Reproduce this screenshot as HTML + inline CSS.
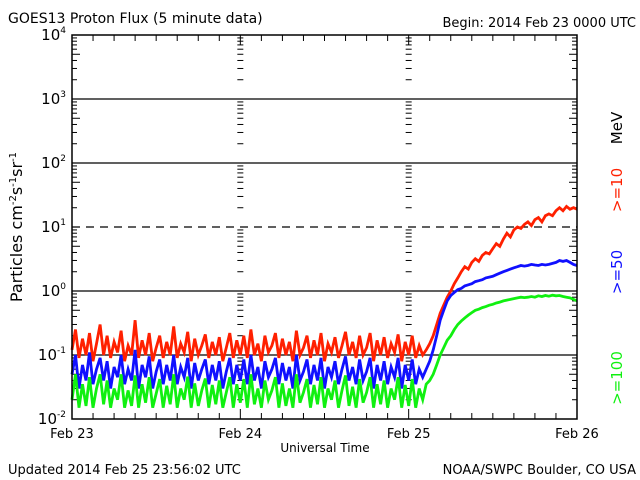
<!DOCTYPE html>
<html><head><meta charset="utf-8">
<style>
html,body{margin:0;padding:0;background:#fff;}
svg{display:block;font-family:"DejaVu Sans","Liberation Sans",sans-serif;}
</style></head>
<body>
<svg id="chart" width="640" height="480" viewBox="0 0 640 480">
<text x="8" y="23" font-size="14">GOES13 Proton Flux (5 minute data)</text>
<text x="636" y="27" font-size="13" text-anchor="end">Begin: 2014 Feb 23 0000 UTC</text>
<text x="8" y="474" font-size="13">Updated 2014 Feb 25 23:56:02 UTC</text>
<text x="636" y="474" font-size="13" text-anchor="end">NOAA/SWPC Boulder, CO USA</text>
<text x="325" y="452" font-size="12" text-anchor="middle">Universal Time</text>
<text transform="translate(22,227) rotate(-90)" font-size="16" text-anchor="middle">Particles cm<tspan dy="-6" font-size="10">-2</tspan><tspan dy="6">s</tspan><tspan dy="-6" font-size="10">-1</tspan><tspan dy="6">sr</tspan><tspan dy="-6" font-size="10">-1</tspan></text>
<text transform="translate(622,128) rotate(-90)" font-size="15" text-anchor="middle" fill="#000">MeV</text>
<text transform="translate(622,190) rotate(-90)" font-size="15" text-anchor="middle" fill="#ff2000">&gt;=10</text>
<text transform="translate(622,272) rotate(-90)" font-size="15" text-anchor="middle" fill="#1010ff">&gt;=50</text>
<text transform="translate(622,378) rotate(-90)" font-size="15" text-anchor="middle" fill="#10f010">&gt;=100</text>
<g id="grid"></g>
<g id="series"></g>
<g id="axes"></g>
</svg>
<script>
const dayLabels = ["Feb 23","Feb 24","Feb 25","Feb 26"];
const yTickExps = [-2,-1,0,1,2,3,4];
const stepHours = 0.5;
const red = [0.12,0.25,0.09,0.18,0.1,0.22,0.08,0.15,0.3,0.1,
0.2,0.09,0.16,0.11,0.24,0.08,0.14,0.1,0.35,0.09,
0.17,0.1,0.22,0.08,0.13,0.2,0.09,0.16,0.1,0.28,
0.09,0.15,0.11,0.23,0.08,0.18,0.1,0.14,0.21,0.09,
0.16,0.1,0.19,0.08,0.13,0.22,0.09,0.17,0.1,0.2,
0.09,0.25,0.1,0.15,0.08,0.2,0.11,0.14,0.22,0.09,
0.18,0.1,0.16,0.08,0.24,0.1,0.13,0.2,0.09,0.17,
0.1,0.22,0.08,0.15,0.11,0.19,0.09,0.14,0.23,0.1,
0.16,0.09,0.2,0.1,0.13,0.22,0.08,0.17,0.1,0.19,
0.09,0.15,0.11,0.21,0.08,0.16,0.1,0.2,0.09,0.14,
0.1,0.12,
0.15,0.2,0.3,0.45,0.6,0.8,1.0,1.3,1.6,2.0,2.4,2.2,2.8,3.2,2.9,3.6,4,3.8,4.6,5.5,5,6.5,8,7,9,10,9.5,11,12,10.5,13,14,12,15,16,15,18,20,18,21,19,20,19];
const blue = [0.05,0.1,0.03,0.07,0.04,0.11,0.035,0.06,0.09,0.04,
0.08,0.03,0.065,0.045,0.1,0.035,0.06,0.04,0.12,0.03,
0.07,0.045,0.095,0.03,0.055,0.085,0.035,0.07,0.04,0.1,
0.035,0.065,0.045,0.09,0.03,0.075,0.04,0.06,0.085,0.035,
0.07,0.04,0.08,0.03,0.055,0.09,0.035,0.07,0.04,0.085,
0.035,0.1,0.04,0.065,0.03,0.08,0.045,0.06,0.09,0.035,
0.075,0.04,0.065,0.03,0.1,0.04,0.055,0.085,0.035,0.07,
0.04,0.09,0.03,0.065,0.045,0.08,0.035,0.06,0.095,0.04,
0.065,0.035,0.085,0.04,0.055,0.09,0.03,0.07,0.04,0.08,
0.035,0.065,0.045,0.09,0.03,0.07,0.04,0.085,0.035,0.06,
0.045,0.06,
0.08,0.12,0.2,0.35,0.5,0.7,0.85,0.95,1.05,1.1,1.2,1.25,1.3,1.4,1.45,1.5,1.6,1.65,1.7,1.8,1.9,2.0,2.1,2.2,2.3,2.4,2.5,2.45,2.5,2.6,2.55,2.5,2.6,2.55,2.6,2.7,2.8,3.0,2.9,3.0,2.8,2.6,2.5];
const green = [0.02,0.05,0.015,0.035,0.016,0.045,0.015,0.03,0.05,0.017,
0.04,0.015,0.03,0.02,0.05,0.015,0.028,0.016,0.048,0.015,
0.035,0.018,0.045,0.015,0.025,0.042,0.015,0.033,0.017,0.05,
0.015,0.03,0.02,0.046,0.015,0.036,0.016,0.028,0.043,0.015,
0.034,0.017,0.04,0.015,0.026,0.045,0.015,0.035,0.018,0.042,
0.015,0.05,0.017,0.03,0.015,0.04,0.02,0.028,0.045,0.015,
0.036,0.016,0.03,0.015,0.05,0.018,0.026,0.042,0.015,0.034,
0.017,0.045,0.015,0.03,0.02,0.04,0.015,0.028,0.048,0.016,
0.032,0.015,0.042,0.018,0.026,0.045,0.015,0.035,0.017,0.04,
0.015,0.03,0.02,0.045,0.015,0.034,0.016,0.042,0.015,0.03,
0.02,0.035,
0.04,0.05,0.07,0.1,0.13,0.17,0.2,0.25,0.3,0.34,0.38,0.42,0.46,0.5,0.52,0.55,0.57,0.6,0.62,0.65,0.67,0.7,0.72,0.74,0.76,0.78,0.8,0.79,0.8,0.82,0.8,0.84,0.82,0.85,0.83,0.86,0.84,0.85,0.82,0.8,0.78,0.74,0.7];

const L=72,R=577,T=35,B=419;
const dayW=(R-L)/3;
const xs=h=>L+h/72*(R-L);
const ys=v=>B-(Math.log10(v)+2)/6*(B-T);
const NS="http://www.w3.org/2000/svg";
function mk(tag,attrs,parent){const e=document.createElementNS(NS,tag);for(const k in attrs)e.setAttribute(k,attrs[k]);parent.appendChild(e);return e;}
const grid=document.getElementById('grid'),axes=document.getElementById('axes'),ser=document.getElementById('series');

yTickExps.forEach(e=>{
  const y=ys(Math.pow(10,e));
  if(e>-2&&e<4){
    const ln=mk('line',{x1:L,x2:R,y1:y,y2:y,stroke:'#000','stroke-width':1.3},grid);
    if(e===1)ln.setAttribute('stroke-dasharray','8,6');
    
    
  }
  const t=mk('text',{x:L-6,y:y+5,'font-size':15,'text-anchor':'end'},axes);
  
  
  t.textContent='10';
  const s=mk('tspan',{dy:-7,'font-size':9},t);s.textContent=String(e);
});
const minorXs=[L,R,L+dayW,L+2*dayW];
for(let e=-2;e<4;e++){
  for(let m=2;m<10;m++){
    const y=ys(m*Math.pow(10,e));
    minorXs.forEach((x,i)=>{
      let len=m===5?8:5;
      let x1,x2;
      if(i===0){x1=x;x2=x+len;}else if(i===1){x1=x-len;x2=x;}else{x1=x-3;x2=x+3;}
      mk('line',{x1:x1,x2:x2,y1:y,y2:y,stroke:'#000','stroke-width':1},grid);
    });
  }
}
for(let h=0;h<=72;h+=3){
  const x=xs(h);const len=h%24===0?10:6;
  mk('line',{x1:x,x2:x,y1:B,y2:B-len,stroke:'#000','stroke-width':1},axes);
  mk('line',{x1:x,x2:x,y1:T,y2:T+len,stroke:'#000','stroke-width':1},axes);
}
dayLabels.forEach((d,i)=>{
  const t=mk('text',{x:L+i*dayW,y:438,'font-size':13,'text-anchor':'middle'},axes);
  
  
  t.textContent=d;
});
const frame=mk('rect',{x:L,y:T,width:R-L,height:B-T,fill:'none',stroke:'#000','stroke-width':1.5},axes);



function line(vals,color,name){
  const d=vals.map((v,i)=>(i?'L':'M')+xs(i*stepHours).toFixed(1)+','+ys(v).toFixed(1)).join(' ');
  const p=mk('path',{d:d,fill:'none',stroke:color,'stroke-width':2.8,'stroke-linejoin':'miter'},ser);
  
  
}
line(red,'#ff2000','series-10mev');
line(blue,'#1010ff','series-50mev');
line(green,'#10f010','series-100mev');
</script>
</body></html>
